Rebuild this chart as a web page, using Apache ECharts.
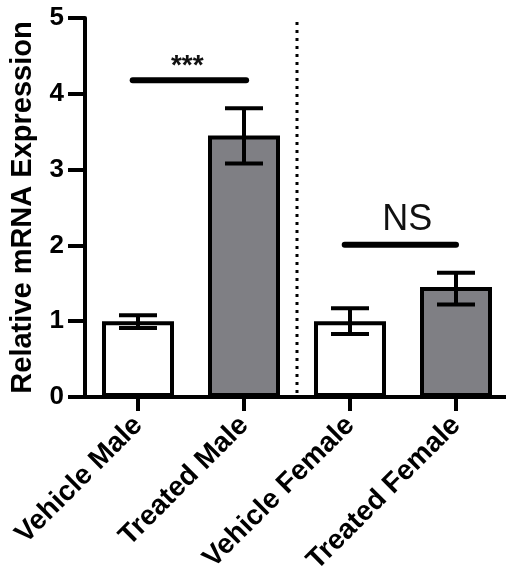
<!DOCTYPE html>
<html><head><meta charset="utf-8">
<script src="https://cdn.jsdelivr.net/npm/echarts@6/dist/echarts.min.js"></script>
<style>html,body{margin:0;padding:0;background:#fff}#c{width:506px;height:579px}</style>
</head><body><div id="c"></div>
<script>
// ---- data ----
const categories = ['Vehicle Male', 'Treated Male', 'Vehicle Female', 'Treated Female'];
const means = [1.0, 3.45, 1.0, 1.45];
const errLow = [0.91, 3.08, 0.83, 1.22];
const errHigh = [1.08, 3.81, 1.17, 1.64];
const isTreated = [false, true, false, true];
const yTicks = [0, 1, 2, 3, 4, 5];
// significance brackets (x in category-index units)
const sigStart = [-0.05, 1.95];
const sigEnd = [1.02, 3.0];
const sigLevel = [4.18, 2.01];
const sigText = ['***', 'NS'];
const sigTextX = [0.465, 2.54];
const sigTextY = [4.36, 2.33];
const separatorX = [1.5];

// ---- styles ----
const FONT = 'Liberation Sans, Arial, sans-serif';
const GRAY = '#7f7f84';

const chart = echarts.init(document.getElementById('c'), null, {renderer: 'canvas'});

const barData = means.map((v, i) => ({
  value: v,
  itemStyle: {color: isTreated[i] ? GRAY : '#ffffff', borderColor: '#000', borderWidth: 4}
}));
const errData = means.map((v, i) => [i, errLow[i], errHigh[i]]);
const sigData = sigStart.map((s, i) => [s, sigEnd[i], sigLevel[i]]);
const sigTextData = sigText.map((t, i) => [sigTextX[i], sigTextY[i], i]);
const sepData = separatorX.map(x => [x, yTicks[0], yTicks[yTicks.length - 1]]);

chart.setOption({
  animation: false,
  backgroundColor: '#fff',
  grid: {left: 85, top: 18, width: 424, height: 379, containLabel: false, outerBoundsMode: 'none'},
  xAxis: [{
    type: 'category',
    data: categories,
    axisLine: {show: true, onZero: false, lineStyle: {color: '#000', width: 4}},
    axisTick: {show: true, alignWithLabel: true, length: 14, lineStyle: {color: '#000', width: 4}},
    axisLabel: {interval: 0, rotate: 45, margin: 24, color: '#000', fontSize: 28, fontWeight: 'bold', fontFamily: FONT},
    splitLine: {show: false}
  }, {
    type: 'value', min: -0.5, max: 3.5, show: false,
    axisLine: {show: false, onZero: false}
  }],
  yAxis: {
    type: 'value',
    min: yTicks[0], max: yTicks[yTicks.length - 1], interval: 1,
    name: 'Relative mRNA Expression',
    nameLocation: 'middle',
    nameGap: 48,
    nameTextStyle: {color: '#000', fontSize: 29, fontWeight: 'bold', fontFamily: FONT},
    axisLine: {show: true, onZero: false, lineStyle: {color: '#000', width: 4}},
    axisTick: {show: true, length: 17, lineStyle: {color: '#000', width: 4}},
    axisLabel: {margin: 21, color: '#000', fontSize: 26, fontWeight: 'bold', fontFamily: FONT},
    splitLine: {show: false}
  },
  series: [{
    type: 'bar',
    data: barData,
    barWidth: 72,
    z: 2
  }, {
    type: 'custom',
    xAxisIndex: 0,
    z: 5,
    data: errData,
    renderItem(params, api) {
      const x = api.value(0);
      const pHi = api.coord([x, api.value(2)]);
      const pLo = api.coord([x, api.value(1)]);
      const half = 19;
      const st = {stroke: '#000', lineWidth: 4};
      return {type: 'group', children: [
        {type: 'line', shape: {x1: pHi[0], y1: pHi[1], x2: pLo[0], y2: pLo[1]}, style: st},
        {type: 'line', shape: {x1: pHi[0] - half, y1: pHi[1], x2: pHi[0] + half, y2: pHi[1]}, style: st},
        {type: 'line', shape: {x1: pLo[0] - half, y1: pLo[1], x2: pLo[0] + half, y2: pLo[1]}, style: st}
      ]};
    }
  }, {
    type: 'custom',
    xAxisIndex: 1,
    z: 5,
    data: sigData,
    renderItem(params, api) {
      const p1 = api.coord([api.value(0), api.value(2)]);
      const p2 = api.coord([api.value(1), api.value(2)]);
      return {type: 'line', shape: {x1: p1[0], y1: p1[1], x2: p2[0], y2: p2[1]},
        style: {stroke: '#000', lineWidth: 6, lineCap: 'round'}};
    }
  }, {
    type: 'custom',
    xAxisIndex: 1,
    z: 5,
    data: sigTextData,
    renderItem(params, api) {
      const p = api.coord([api.value(0), api.value(1)]);
      const idx = api.value(2);
      const isStar = sigText[idx] === '***';
      return {type: 'text', x: p[0], y: p[1],
        style: {text: sigText[idx], fill: '#111', align: 'center', verticalAlign: 'middle',
          font: (isStar ? 'bold 28px ' : 'normal 36px ') + FONT}};
    }
  }, {
    type: 'custom',
    xAxisIndex: 1,
    z: 4,
    data: sepData,
    renderItem(params, api) {
      const p1 = api.coord([api.value(0), api.value(1)]);
      const p2 = api.coord([api.value(0), api.value(2)]);
      return {type: 'line', shape: {x1: p1[0], y1: p1[1] - 4, x2: p2[0], y2: p2[1]},
        style: {stroke: '#000', lineWidth: 3, lineDash: [3, 5]}};
    }
  }]
});
</script>
</body></html>
